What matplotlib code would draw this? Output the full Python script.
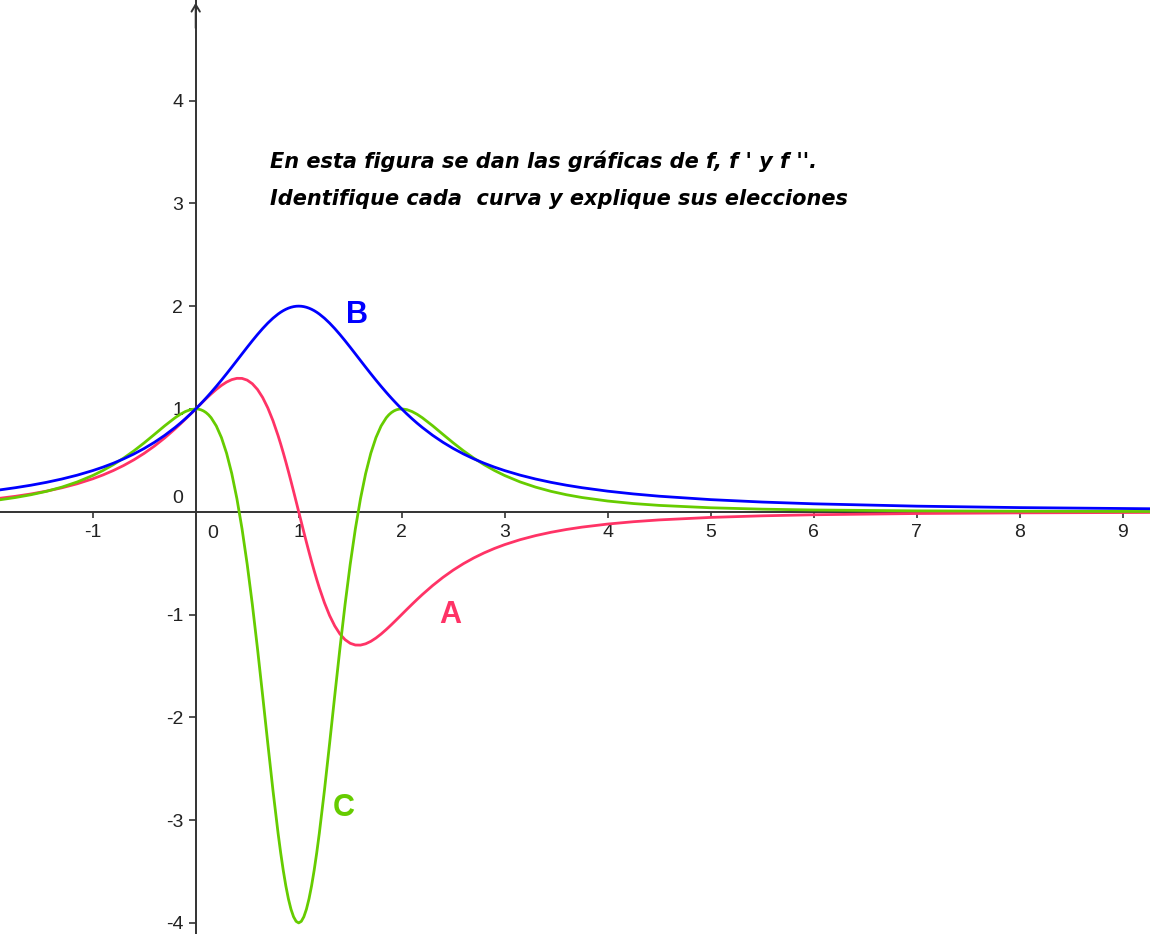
#!/usr/bin/env python3
"""Graphs of f, f' and f'' (curves A, B, C) in a GeoGebra-like style."""

import matplotlib

matplotlib.use("Agg")
import matplotlib.pyplot as plt

plt.rcParams["font.family"] = ["Liberation Sans", "DejaVu Sans"]
plt.rcParams["axes.unicode_minus"] = False

# sample points
x = [
    -1.9, -1.75, -1.6, -1.45, -1.3, -1.15, -1.0, -0.9, -0.8, -0.7, -0.6, -0.5, -0.4, -0.3,
    -0.2, -0.15, -0.1, -0.05, 0.0, 0.025, 0.05, 0.075, 0.1, 0.125, 0.15,
    0.2, 0.25, 0.3, 0.35, 0.4, 0.45, 0.5, 0.55, 0.6, 0.65, 0.7, 0.75, 0.8,
    0.825, 0.85, 0.875, 0.9, 0.925, 0.95, 0.975, 1.0,
    1.025, 1.05, 1.075, 1.1, 1.125, 1.15, 1.175, 1.2,
    1.25, 1.3, 1.35, 1.4, 1.45, 1.5, 1.55, 1.6, 1.65, 1.7, 1.75, 1.8,
    1.85, 1.875, 1.9, 1.925, 1.95, 1.975, 2.0, 2.05, 2.1, 2.15, 2.2,
    2.3, 2.4, 2.5, 2.6, 2.7, 2.8, 2.9, 3.0, 3.15, 3.3, 3.45, 3.6, 3.75,
    4.0, 4.25, 4.5, 5.0, 5.5, 6.0, 7.0, 8.0, 9.3,
]
curve_b = [
    0.2125, 0.2336, 0.2577, 0.2856, 0.3180, 0.3557, 0.4, 0.4338, 0.4717, 0.5141, 0.5618, 0.6154, 0.6757, 0.7435,
    0.8197, 0.8611, 0.9050, 0.9513, 1.0, 1.0253, 1.0513, 1.0778, 1.1050, 1.1327, 1.1611,
    1.2195, 1.28, 1.3423, 1.4060, 1.4706, 1.5355, 1.6, 1.6632, 1.7241, 1.7817, 1.8349, 1.8824, 1.9231,
    1.9406, 1.9560, 1.9692, 1.9802, 1.9888, 1.9950, 1.9988, 2.0,
    1.9988, 1.9950, 1.9888, 1.9802, 1.9692, 1.9560, 1.9406, 1.9231,
    1.8824, 1.8349, 1.7817, 1.7241, 1.6632, 1.6, 1.5355, 1.4706, 1.4060, 1.3423, 1.28, 1.2195,
    1.1611, 1.1327, 1.1050, 1.0778, 1.0513, 1.0253, 1.0, 0.9513, 0.9050, 0.8611, 0.8197,
    0.7435, 0.6757, 0.6154, 0.5618, 0.5141, 0.4717, 0.4338, 0.4, 0.3557, 0.3180, 0.2856, 0.2577, 0.2336,
    0.2, 0.1730, 0.1509, 0.1176, 0.0941, 0.0769, 0.0541, 0.04, 0.0286,
]
curve_a = [
    0.1310, 0.1500, 0.1727, 0.1999, 0.2325, 0.2720, 0.32, 0.3576, 0.4005, 0.4494, 0.5050, 0.5680, 0.6392, 0.7186,
    0.8062, 0.8528, 0.9009, 0.9501, 1.0, 1.0250, 1.0499, 1.0745, 1.0989, 1.1227, 1.1459,
    1.1898, 1.2288, 1.2612, 1.2849, 1.2976, 1.2968, 1.28, 1.2448, 1.1891, 1.1111, 1.0100, 0.8858, 0.7396,
    0.6590, 0.5739, 0.4847, 0.3921, 0.2967, 0.1990, 0.0999, 0.0,
    -0.0999, -0.1990, -0.2967, -0.3921, -0.4847, -0.5739, -0.6590, -0.7396,
    -0.8858, -1.0100, -1.1111, -1.1891, -1.2448, -1.28, -1.2968, -1.2976, -1.2849, -1.2612, -1.2288, -1.1898,
    -1.1459, -1.1227, -1.0989, -1.0745, -1.0499, -1.0250, -1.0, -0.9501, -0.9009, -0.8528, -0.8062,
    -0.7186, -0.6392, -0.5680, -0.5050, -0.4494, -0.4005, -0.3576, -0.32, -0.2720, -0.2325, -0.1999, -0.1727, -0.1500,
    -0.12, -0.0972, -0.0797, -0.0554, -0.0399, -0.0296, -0.0175, -0.0112, -0.0068,
]
curve_c = [
    0.1163, 0.1382, 0.1650, 0.1981, 0.2390, 0.2896, 0.352, 0.4013, 0.4576, 0.5212, 0.5922, 0.6700, 0.7527, 0.8364,
    0.9142, 0.9475, 0.9746, 0.9931, 1.0, 0.9981, 0.9919, 0.9809, 0.9646, 0.9425, 0.9138,
    0.8343, 0.7209, 0.5683, 0.3717, 0.1272, -0.1674, -0.512, -0.9029, -1.3326, -1.7888, -2.2548, -2.7096, -3.1293,
    -3.3182, -3.4891, -3.6392, -3.7659, -3.8669, -3.9404, -3.9850, -4.0,
    -3.9850, -3.9404, -3.8669, -3.7659, -3.6392, -3.4891, -3.3182, -3.1293,
    -2.7096, -2.2548, -1.7888, -1.3326, -0.9029, -0.512, -0.1674, 0.1272, 0.3717, 0.5683, 0.7209, 0.8343,
    0.9138, 0.9425, 0.9646, 0.9809, 0.9919, 0.9981, 1.0, 0.9931, 0.9746, 0.9475, 0.9142,
    0.8364, 0.7527, 0.6700, 0.5922, 0.5212, 0.4576, 0.4013, 0.352, 0.2896, 0.2390, 0.1981, 0.1650, 0.1382,
    0.104, 0.0794, 0.0615, 0.0383, 0.0249, 0.0168, 0.0085, 0.0047, 0.0024,
]

x_ticks = [-1, 1, 2, 3, 4, 5, 6, 7, 8, 9]
y_ticks = [-4, -3, -2, -1, 1, 2, 3, 4]
note_lines = [
    "En esta figura se dan las gráficas de f, f ' y f ''.",
    "Identifique cada  curva y explique sus elecciones",
]

PINK = "#FF3366"
GREEN = "#66CC00"
BLUE = "#0000FF"
AXIS = "#333333"

XLIM = (-1.90, 9.265)
YLIM = (-4.108, 4.978)

fig = plt.figure(figsize=(11.5, 9.34), dpi=100)
ax = fig.add_axes([0, 0, 1, 1])
ax.set_xlim(*XLIM)
ax.set_ylim(*YLIM)

ax.plot(x, curve_a, color=PINK, lw=2.0, solid_capstyle="round", solid_joinstyle="round")
ax.plot(x, curve_c, color=GREEN, lw=2.0, solid_capstyle="round", solid_joinstyle="round")
ax.plot(x, curve_b, color=BLUE, lw=2.0, solid_capstyle="round", solid_joinstyle="round")

for side in ("top", "right"):
    ax.spines[side].set_visible(False)
for side in ("left", "bottom"):
    ax.spines[side].set_position(("data", 0))
    ax.spines[side].set_color(AXIS)
    ax.spines[side].set_linewidth(1.4)
    ax.spines[side].set_zorder(1)

ax.set_xticks(x_ticks)
ax.set_yticks(y_ticks)
ax.set_xticklabels([str(v) for v in x_ticks])
ax.set_yticklabels([str(v) for v in y_ticks])
ax.tick_params(axis="x", direction="out", length=4.5, width=1.2, color=AXIS,
               pad=4.0, labelsize=14, labelcolor="#222222")
ax.tick_params(axis="y", direction="out", length=5.0, width=1.2, color=AXIS,
               pad=4.0, labelsize=14, labelcolor="#222222")

# the two zeros at the origin
ax.annotate("0", xy=(0, 0), xytext=(-9.4, 3.6), textcoords="offset points",
            ha="right", va="bottom", fontsize=14, color="#222222")
ax.annotate("0", xy=(0, 0), xytext=(12.1, -9.4), textcoords="offset points",
            ha="center", va="top", fontsize=14, color="#222222")

# arrow head on the y axis
ax.annotate("", xy=(0, YLIM[1]), xytext=(0, YLIM[1] - 0.3),
            arrowprops=dict(arrowstyle="->,head_length=0.5,head_width=0.3",
                            lw=1.4, color=AXIS),
            annotation_clip=False)

for i, line in enumerate(note_lines):
    ax.text(0.721, 3.343 - 0.36 * i, line, family="DejaVu Sans", fontsize=15,
            fontweight="bold", fontstyle="italic", ha="left", va="baseline",
            color="black")

ax.text(1.566, 1.914, "B", fontsize=22, fontweight="bold", color=BLUE,
        ha="center", va="center")
ax.text(2.469, -1.006, "A", fontsize=22, fontweight="bold", color=PINK,
        ha="center", va="center")
ax.text(1.440, -2.882, "C", fontsize=22, fontweight="bold", color=GREEN,
        ha="center", va="center")

fig.savefig("out.png", dpi=100)
